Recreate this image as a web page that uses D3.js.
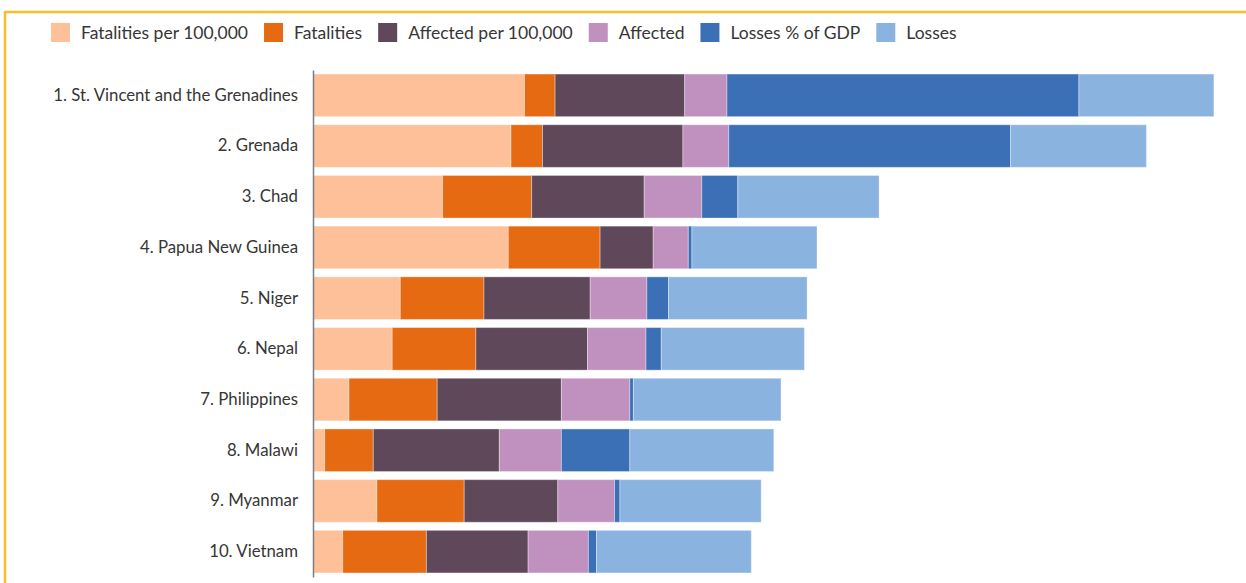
<!DOCTYPE html>
<html>
<head>
<meta charset="utf-8">
<script src="https://cdn.jsdelivr.net/npm/d3@7"></script>
<style>
  html, body { margin: 0; padding: 0; background: #fff; }
  svg { display: block; }
  text { font-family: Lato, "Noto Sans", sans-serif; fill: #363636; }
</style>
</head>
<body>
<svg id="chart" width="1246" height="583"></svg>
<script>
// ---- data ----
const countries = [
  "1. St. Vincent and the Grenadines",
  "2. Grenada",
  "3. Chad",
  "4. Papua New Guinea",
  "5. Niger",
  "6. Nepal",
  "7. Philippines",
  "8. Malawi",
  "9. Myanmar",
  "10. Vietnam"
];
const seriesNames = ["Fatalities per 100,000", "Fatalities", "Affected per 100,000", "Affected", "Losses % of GDP", "Losses"];
const seriesColors = ["#FDC098", "#E56A12", "#5E485A", "#C091BE", "#3C70B6", "#8BB3E0"];

const fatalitiesPer100k = [23.5, 22.0, 14.4, 21.7, 9.7, 8.8, 4.0, 1.3, 7.1, 3.3];
const fatalities        = [3.4, 3.5, 9.9, 10.2, 9.3, 9.3, 9.8, 5.4, 9.7, 9.3];
const affectedPer100k   = [14.4, 15.6, 12.5, 5.9, 11.8, 12.4, 13.8, 14.0, 10.4, 11.3];
const affected          = [4.7, 5.1, 6.4, 3.9, 6.3, 6.5, 7.6, 6.9, 6.3, 6.7];
const lossesPctGDP      = [39.1, 31.3, 4.0, 0.4, 2.4, 1.7, 0.4, 7.6, 0.6, 0.9];
const losses            = [15.0, 15.1, 15.7, 13.9, 15.4, 15.9, 16.4, 16.0, 15.7, 17.2];

const seriesValues = [fatalitiesPer100k, fatalities, affectedPer100k, affected, lossesPctGDP, losses];

// ---- build table ----
const table = countries.map((c, i) => {
  const row = { country: c };
  seriesNames.forEach((s, j) => { row[s] = seriesValues[j][i]; });
  return row;
});

const svg = d3.select("#chart");

// frame (yellow border top & left)
svg.append("line").attr("x1", 5).attr("x2", 1246).attr("y1", 12).attr("y2", 12)
  .attr("stroke", "#F9BD2B").attr("stroke-width", 2.5);
svg.append("line").attr("x1", 5).attr("x2", 5).attr("y1", 11).attr("y2", 583)
  .attr("stroke", "#F9BD2B").attr("stroke-width", 2.5);

const x = d3.scaleLinear().domain([0, 100]).range([313, 1213]);
const y = d3.scaleBand().domain(countries).range([70, 577]).paddingInner(0.16).paddingOuter(0.08);

const stack = d3.stack().keys(seriesNames);
const stacked = stack(table);
const color = d3.scaleOrdinal().domain(seriesNames).range(seriesColors);

svg.append("g").selectAll("g")
  .data(stacked)
  .join("g")
  .attr("fill", d => color(d.key))
  .selectAll("rect")
  .data(d => d)
  .join("rect")
  .attr("x", d => x(d[0]))
  .attr("y", d => y(d.data.country))
  .attr("width", d => Math.max(0, x(d[1]) - x(d[0])))
  .attr("height", y.bandwidth())
  .attr("stroke", "#ffffff")
  .attr("stroke-opacity", 0.35)
  .attr("stroke-width", 1);

// y axis
const yAxis = d3.axisLeft(y).tickSize(0).tickPadding(15);
const gy = svg.append("g").attr("transform", `translate(${x(0)},0)`).call(yAxis);
gy.select(".domain").attr("stroke", "#7d7d8c").attr("stroke-width", 1.5);
gy.selectAll("text").style("font-family", "Lato, 'Noto Sans', sans-serif")
  .style("font-size", "16.8px").attr("fill", "#363636");

// legend
const legend = svg.append("g").attr("transform", "translate(51,33)");
let lx = 0;
seriesNames.forEach((s, i) => {
  const g = legend.append("g").attr("transform", `translate(${lx},0)`);
  g.append("rect").attr("x", 0).attr("y", -10).attr("width", 19).attr("height", 19).attr("fill", seriesColors[i]);
  const t = g.append("text").attr("x", 30).attr("y", 0).attr("dy", "0.35em")
    .style("font-size", "17.5px").text(s);
  const w = t.node().getComputedTextLength();
  lx += 30 + w + 16;
});
</script>
</body>
</html>
